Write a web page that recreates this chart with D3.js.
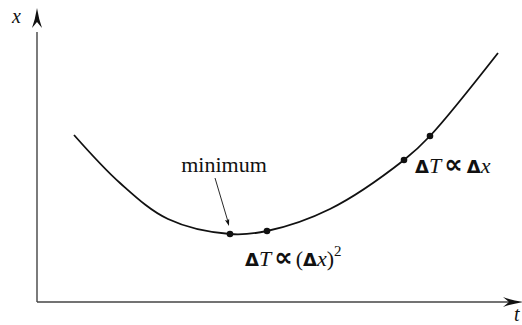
<!DOCTYPE html>
<html>
<head>
<meta charset="utf-8">
<script src="https://cdn.jsdelivr.net/npm/d3@7"></script>
<style>
  html, body { margin: 0; padding: 0; background: #fff; }
  svg { display: block; }
</style>
</head>
<body>
<svg id="chart" width="522" height="325"></svg>
<script>
// Trajectory x(t): positions sampled along the path
const tValues = [37, 83, 131, 193, 230, 293, 367, 393, 461];
const xValues = [167, 119, 83, 68, 71, 93, 142, 166, 249];

// Marked pairs of neighbouring points: near the minimum and on the steep part
const markT = [193, 230, 367, 393];
const markX = [68, 71, 142, 166];

// Axis labels
const axisLabels = ["t", "x"];

const serif = "'Liberation Serif'";
const sym = "'DejaVu Sans'";
const svg = d3.select("#chart");

const tScale = d3.scaleLinear().domain([0, 483]).range([37, 520]);
const xScale = d3.scaleLinear().domain([0, 292]).range([302, 10]);

const ink = "#111";
const axisInk = "#444";

// Axes
svg.append("line")
  .attr("x1", tScale(0)).attr("y1", xScale(0))
  .attr("x2", tScale(0)).attr("y2", xScale(270))
  .attr("stroke", axisInk).attr("stroke-width", 1.4);
svg.append("line")
  .attr("x1", tScale(0)).attr("y1", xScale(0))
  .attr("x2", tScale(475)).attr("y2", xScale(0))
  .attr("stroke", axisInk).attr("stroke-width", 1.4);

// Arrowheads (concave-backed)
function arrowHead(tipX, tipY, angle) {
  const L = 20, W = 5, back = 6;
  const p = d3.path();
  p.moveTo(0, 0);
  p.quadraticCurveTo(-L * 0.55, W * 0.35, -L, W);
  p.lineTo(-L + back, 0);
  p.lineTo(-L, -W);
  p.quadraticCurveTo(-L * 0.55, -W * 0.35, 0, 0);
  p.closePath();
  svg.append("path")
    .attr("d", p.toString())
    .attr("transform", `translate(${tipX},${tipY}) rotate(${angle})`)
    .attr("fill", ink);
}
arrowHead(tScale(0), xScale(294), -90);
arrowHead(tScale(486), xScale(0), 0);

svg.append("text")
  .attr("x", 12).attr("y", 23)
  .style("font-family", serif)
  .attr("font-size", 20).attr("font-style", "italic")
  .attr("fill", ink)
  .text(axisLabels[1]);
svg.append("text")
  .attr("x", 514).attr("y", 321)
  .style("font-family", serif)
  .attr("font-size", 20).attr("font-style", "italic")
  .attr("fill", ink)
  .text(axisLabels[0]);

// Curve
const pts = tValues.map((t, i) => [t, xValues[i]]);
const line = d3.line()
  .x(d => tScale(d[0]))
  .y(d => xScale(d[1]))
  .curve(d3.curveCatmullRom.alpha(0.5));
svg.append("path")
  .datum(pts)
  .attr("d", line)
  .attr("fill", "none")
  .attr("stroke", ink)
  .attr("stroke-width", 1.8);

// Dots
svg.selectAll("circle.mark")
  .data(markT.map((t, i) => [t, markX[i]]))
  .join("circle")
  .attr("class", "mark")
  .attr("cx", d => tScale(d[0]))
  .attr("cy", d => xScale(d[1]))
  .attr("r", 3.3)
  .attr("fill", ink);

// "minimum" label with pointer
svg.append("text")
  .attr("x", 224).attr("y", 172)
  .attr("text-anchor", "middle")
  .style("font-family", serif)
  .attr("font-size", 22)
  .attr("fill", ink)
  .text("minimum");
const ax1 = 215, ay1 = 178, ax2 = 229, ay2 = 226;
svg.append("line")
  .attr("x1", ax1).attr("y1", ay1)
  .attr("x2", ax2 - 1.2).attr("y2", ay2 - 5)
  .attr("stroke", ink).attr("stroke-width", 0.9);
{
  const ang = Math.atan2(ay2 - ay1, ax2 - ax1) * 180 / Math.PI;
  const p = d3.path();
  p.moveTo(0, 0); p.lineTo(-7, 2.2); p.lineTo(-5.5, 0); p.lineTo(-7, -2.2); p.closePath();
  svg.append("path").attr("d", p.toString())
    .attr("transform", `translate(${ax2},${ay2}) rotate(${ang})`)
    .attr("fill", ink);
}

// Proportionality annotations
function deltaLabel(x, y, parts) {
  const t = svg.append("text").attr("x", x).attr("y", y)
    .style("font-family", serif).attr("font-size", 22).attr("fill", ink);
  parts.forEach(p => {
    const s = t.append("tspan").text(p.s);
    if (p.f) s.style("font-family", p.f);
    if (p.it) s.attr("font-style", "italic");
    if (p.w) s.attr("font-weight", p.w);
    if (p.dx) s.attr("dx", p.dx);
    if (p.dy) s.attr("dy", p.dy);
    if (p.fs) s.attr("font-size", p.fs);
  });
}
deltaLabel(245, 266, [
  { s: "Δ", f: sym, w: "bold", fs: 18 },
  { s: "T", it: true },
  { s: "∝", f: sym, dx: 3, fs: 26, w: "bold" },
  { s: "(", dx: 3 },
  { s: "Δ", f: sym, w: "bold", fs: 18 },
  { s: "x", it: true },
  { s: ")" },
  { s: "2", fs: 15, dy: -10 }
]);
deltaLabel(415, 173, [
  { s: "Δ", f: sym, w: "bold", fs: 18 },
  { s: "T", it: true },
  { s: "∝", f: sym, dx: 3, fs: 26, w: "bold" },
  { s: "Δ", f: sym, w: "bold", fs: 18, dx: 4 },
  { s: "x", it: true }
]);
</script>
</body>
</html>
